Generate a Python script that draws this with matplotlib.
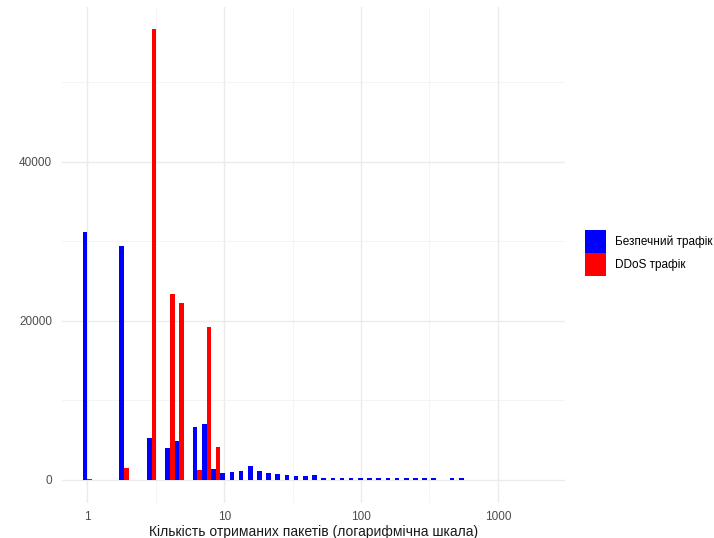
import numpy as np
import matplotlib.pyplot as plt
from matplotlib.patches import Patch
from matplotlib.transforms import Bbox
from matplotlib.ticker import NullFormatter

plt.rcParams['font.family'] = ['Liberation Sans', 'DejaVu Sans']

# гістограма в log10-просторі: ширина кошика і кількості по кошиках
bin_width = 0.06705
benign_counts = [31200, 0, 0, 0, 29400, 0, 0, 5300, 0, 4000,
                 4900, 0, 6600, 7100, 1380, 840, 970, 1170, 1800, 1090,
                 920, 720, 590, 460, 460, 590, 230, 210, 210, 200,
                 200, 200, 200, 200, 200, 200, 200, 200, 200, 0,
                 200, 200]
ddos_counts = [110, 0, 0, 0, 1500, 0, 0, 56700, 0, 23400,
               22300, 0, 1260, 19200, 4200, 0, 0, 0, 0, 0,
               0, 0, 0, 0, 0, 0, 0, 0, 0, 0,
               0, 0, 0, 0, 0, 0, 0, 0, 0, 0,
               0, 0]
labels = ['Безпечний трафік', 'DDoS трафік']
colors = ['blue', 'red']
xticks = [1, 10, 100, 1000]

W, H = 714, 538
fig = plt.figure(figsize=(W / 100, H / 100), dpi=100)
ax = fig.add_axes([62 / W, (H - 502.5) / H, (565 - 62) / W, (502.5 - 6.7) / H])

centers = np.arange(len(benign_counts)) * bin_width
lo = 10 ** (centers - bin_width / 2)
mid = 10 ** centers
hi = 10 ** (centers + bin_width / 2)

ax.set_xscale('log')
ax.bar(lo, benign_counts, width=mid - lo, align='edge', color=colors[0], linewidth=0, zorder=3)
ax.bar(mid, ddos_counts, width=hi - mid, align='edge', color=colors[1], linewidth=0, zorder=3)

ax.set_xlim(10 ** -0.185, 10 ** 3.49)
ax.set_ylim(-2835, 59535)
ax.set_xticks(xticks)
ax.set_xticklabels([str(v) for v in xticks])
ax.set_xticks([10 ** 0.5, 10 ** 1.5, 10 ** 2.5], minor=True)
ax.xaxis.set_minor_formatter(NullFormatter())
ax.set_yticks([0, 20000, 40000])
ax.set_yticks([10000, 30000, 50000], minor=True)

ax.grid(True, which='major', color='#ebebeb', linewidth=1.0, zorder=0)
ax.grid(True, which='minor', color='#f2f2f2', linewidth=0.6, zorder=0)
for s in ax.spines.values():
    s.set_visible(False)
ax.tick_params(which='both', length=0, labelsize=8.5, labelcolor='#4d4d4d')
ax.tick_params(axis='x', pad=6)
ax.tick_params(axis='y', pad=7)

ax.set_xlabel('Кількість отриманих пакетів (логарифмічна шкала)', fontsize=10, color='#1a1a1a', labelpad=1.5)

# підпис осі Y обрізаний лівим краєм
yl = fig.text(12 / W, 1 - 252 / H, 'Частота', rotation=90, ha='right', va='center',
              fontsize=10.5, color='black')
yl.set_clip_box(Bbox([[10, 0], [W, H]]))
yl.set_clip_on(True)

handles = [Patch(facecolor=colors[0], label=labels[0]), Patch(facecolor=colors[1], label=labels[1])]
fig.legend(handles=handles, loc='upper left', bbox_to_anchor=(585 / W, 1 - 230 / H),
           frameon=False, fontsize=8.5, handlelength=1.75, handleheight=2.6,
           labelspacing=0.05, handletextpad=0.75, borderpad=0, borderaxespad=0)

fig.savefig('out.png', dpi=100)
